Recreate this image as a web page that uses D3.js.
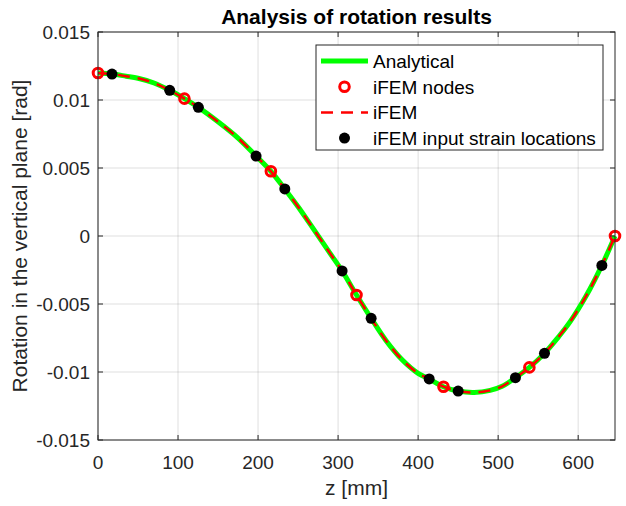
<!DOCTYPE html>
<html>
<head>
<meta charset="utf-8">
<script src="https://cdn.jsdelivr.net/npm/d3@7"></script>
<style>
  body { margin: 0; background: #fff; }
  text { font-family: "Liberation Sans", Arial, sans-serif; fill: #262626; }
</style>
</head>
<body>
<div id="chart"></div>
<script>
// --- Data ---
const analyticalZ = [0, 17.5, 35, 50, 70, 89.6, 108, 125.4, 150, 175, 197.5, 216, 233.4, 250, 270, 290, 305, 323, 341.3, 360, 380, 400, 413.8, 431.7, 450, 470, 490, 505, 521.6, 539, 557.9, 575, 590, 610, 629.6, 646];
const analyticalV = [0.01199, 0.01191, 0.01175, 0.01160, 0.01125, 0.01071, 0.01010, 0.00946, 0.00840, 0.00720, 0.00588, 0.00476, 0.00346, 0.00215, 0.00045, -0.00128, -0.00257, -0.00434, -0.00605, -0.00770, -0.00910, -0.01010, -0.01051, -0.01108, -0.01140, -0.01150, -0.01135, -0.01105, -0.01042, -0.00966, -0.00863, -0.00745, -0.00630, -0.00440, -0.00216, 0];

const nodeZ = [0, 108, 216, 323, 431.7, 539, 646];
const nodeV = [0.01199, 0.01010, 0.00476, -0.00434, -0.01108, -0.00966, 0];

// iFEM curve follows the analytical one within pixel accuracy
const ifemZ = analyticalZ;
const ifemV = analyticalV;

const strainZ = [17.5, 89.6, 125.4, 197.5, 233.4, 305, 341.3, 413.8, 450, 521.6, 557.9, 629.6];
const strainV = [0.01191, 0.01071, 0.00946, 0.00588, 0.00346, -0.00257, -0.00605, -0.01051, -0.0114, -0.01042, -0.00863, -0.00216];

const xTicks = [0, 100, 200, 300, 400, 500, 600];
const yTicks = [-0.015, -0.01, -0.005, 0, 0.005, 0.01, 0.015];
const yTickLabels = ["-0.015", "-0.01", "-0.005", "0", "0.005", "0.01", "0.015"];

const legendLabels = ["Analytical", "iFEM nodes", "iFEM", "iFEM input strain locations"];

// --- Dimensions ---
const width = 626, height = 506;
const margin = { top: 32, right: 11, bottom: 66, left: 98 };

const svg = d3.select("#chart").append("svg")
  .attr("width", width)
  .attr("height", height);

const x = d3.scaleLinear().domain([0, 646]).range([margin.left, width - margin.right]);
const y = d3.scaleLinear().domain([-0.015, 0.015]).range([height - margin.bottom, margin.top]);

const axisColor = "#262626";
const tickLen = 5;
const nodeR = 4.8, nodeW = 3;

// --- Grid ---
svg.append("g").selectAll("line").data(xTicks).enter().append("line")
  .attr("x1", d => x(d)).attr("x2", d => x(d))
  .attr("y1", y.range()[1]).attr("y2", y.range()[0])
  .attr("stroke", axisColor).attr("stroke-opacity", 0.15).attr("stroke-width", 1);
svg.append("g").selectAll("line").data(yTicks).enter().append("line")
  .attr("x1", x.range()[0]).attr("x2", x.range()[1])
  .attr("y1", d => y(d)).attr("y2", d => y(d))
  .attr("stroke", axisColor).attr("stroke-opacity", 0.15).attr("stroke-width", 1);

// --- Lines ---
const line = d3.line().curve(d3.curveCatmullRom);

svg.append("path")
  .attr("d", line(analyticalZ.map((z, i) => [x(z), y(analyticalV[i])])))
  .attr("fill", "none").attr("stroke", "#00ff00").attr("stroke-width", 5);

svg.append("g").selectAll("circle").data(nodeZ).enter().append("circle")
  .attr("cx", d => x(d)).attr("cy", (d, i) => y(nodeV[i]))
  .attr("r", nodeR).attr("fill", "none").attr("stroke", "#ff0000").attr("stroke-width", nodeW);

svg.append("path")
  .attr("d", line(ifemZ.map((z, i) => [x(z), y(ifemV[i])])))
  .attr("fill", "none").attr("stroke", "#ff0000").attr("stroke-width", 2.5)
  .attr("stroke-dasharray", "12,8");

svg.append("g").selectAll("circle").data(strainZ).enter().append("circle")
  .attr("cx", d => x(d)).attr("cy", (d, i) => y(strainV[i]))
  .attr("r", 5.5).attr("fill", "#000");

// --- Axes box ---
svg.append("rect")
  .attr("x", x.range()[0]).attr("y", y.range()[1])
  .attr("width", x.range()[1] - x.range()[0]).attr("height", y.range()[0] - y.range()[1])
  .attr("fill", "none").attr("stroke", axisColor).attr("stroke-width", 1);

// ticks (inside, all four sides)
const ticks = svg.append("g").attr("stroke", axisColor).attr("stroke-width", 1);
xTicks.forEach(t => {
  ticks.append("line").attr("x1", x(t)).attr("x2", x(t)).attr("y1", y.range()[0]).attr("y2", y.range()[0] - tickLen);
  ticks.append("line").attr("x1", x(t)).attr("x2", x(t)).attr("y1", y.range()[1]).attr("y2", y.range()[1] + tickLen);
});
yTicks.forEach(t => {
  ticks.append("line").attr("x1", x.range()[0]).attr("x2", x.range()[0] + tickLen).attr("y1", y(t)).attr("y2", y(t));
  ticks.append("line").attr("x1", x.range()[1]).attr("x2", x.range()[1] - tickLen).attr("y1", y(t)).attr("y2", y(t));
});

// tick labels
svg.append("g").selectAll("text").data(xTicks).enter().append("text")
  .attr("x", d => x(d)).attr("y", y.range()[0] + 29)
  .attr("text-anchor", "middle").attr("font-size", 19)
  .text(d => d);
svg.append("g").selectAll("text").data(yTicks).enter().append("text")
  .attr("x", x.range()[0] - 8).attr("y", d => y(d) + 7)
  .attr("text-anchor", "end").attr("font-size", 19)
  .text((d, i) => yTickLabels[i]);

// --- Labels ---
svg.append("text")
  .attr("x", (x.range()[0] + x.range()[1]) / 2).attr("y", 495)
  .attr("text-anchor", "middle").attr("font-size", 21)
  .text("z [mm]");

svg.append("text")
  .attr("transform", `translate(27,${(y.range()[0] + y.range()[1]) / 2}) rotate(-90)`)
  .attr("text-anchor", "middle").attr("font-size", 21)
  .text("Rotation in the vertical plane [rad]");

svg.append("text")
  .attr("x", (x.range()[0] + x.range()[1]) / 2).attr("y", 24)
  .attr("text-anchor", "middle").attr("font-size", 21).attr("font-weight", "bold")
  .style("fill", "#000")
  .text("Analysis of rotation results");

// --- Legend ---
const lg = svg.append("g").attr("transform", "translate(316,45)");
lg.append("rect").attr("width", 287).attr("height", 105)
  .attr("fill", "#fff").attr("stroke", axisColor).attr("stroke-width", 1);

const rowY = i => 16 + i * 25.7;
const sx1 = 5, sx2 = 52, sxm = 28.5;

lg.append("line").attr("x1", sx1).attr("x2", sx2).attr("y1", rowY(0)).attr("y2", rowY(0))
  .attr("stroke", "#00ff00").attr("stroke-width", 5);
lg.append("circle").attr("cx", sxm).attr("cy", rowY(1)).attr("r", nodeR)
  .attr("fill", "none").attr("stroke", "#ff0000").attr("stroke-width", nodeW);
lg.append("line").attr("x1", sx1).attr("x2", sx2).attr("y1", rowY(2)).attr("y2", rowY(2))
  .attr("stroke", "#ff0000").attr("stroke-width", 2.5).attr("stroke-dasharray", "12,8");
lg.append("circle").attr("cx", sxm).attr("cy", rowY(3)).attr("r", 5.5).attr("fill", "#000");

lg.selectAll(".lt").data(legendLabels).enter().append("text")
  .attr("class", "lt")
  .attr("x", 57).attr("y", (d, i) => rowY(i) + 7)
  .attr("font-size", 19)
  .style("fill", "#000")
  .text(d => d);
</script>
</body>
</html>
